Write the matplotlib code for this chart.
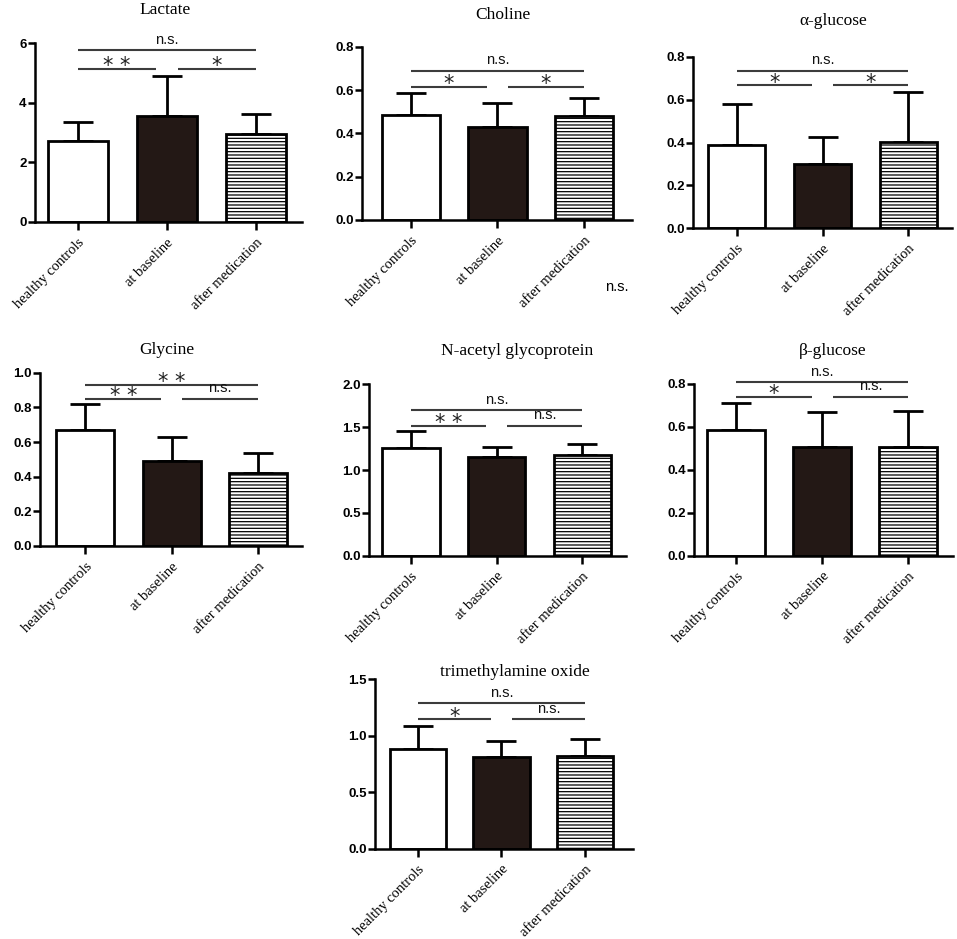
import matplotlib
matplotlib.use('Agg')
import matplotlib.pyplot as plt
import numpy as np

plt.rcParams['hatch.linewidth'] = 0.9

# ---------------- data ----------------
groups = ['healthy controls', 'at baseline', 'after medication']

titles = ['Lactate', 'Choline', 'α-glucose', 'Glycine',
          'N-acetyl glycoprotein', 'β-glucose', 'trimethylamine oxide']

lactate_mean = [2.70, 3.56, 2.96]
lactate_sd = [0.65, 1.34, 0.67]
choline_mean = [0.485, 0.429, 0.481]
choline_sd = [0.102, 0.113, 0.084]
aglucose_mean = [0.387, 0.298, 0.402]
aglucose_sd = [0.194, 0.126, 0.235]
glycine_mean = [0.667, 0.492, 0.423]
glycine_sd = [0.152, 0.137, 0.115]
nag_mean = [1.257, 1.148, 1.171]
nag_sd = [0.194, 0.124, 0.129]
bglucose_mean = [0.586, 0.508, 0.505]
bglucose_sd = [0.127, 0.162, 0.169]
tmao_mean = [0.886, 0.809, 0.824]
tmao_sd = [0.204, 0.142, 0.145]

lactate_ticks = [0, 2, 4, 6]
choline_ticks = [0.0, 0.2, 0.4, 0.6, 0.8]
aglucose_ticks = [0.0, 0.2, 0.4, 0.6, 0.8]
glycine_ticks = [0.0, 0.2, 0.4, 0.6, 0.8, 1.0]
nag_ticks = [0.0, 0.5, 1.0, 1.5, 2.0]
bglucose_ticks = [0.0, 0.2, 0.4, 0.6, 0.8]
tmao_ticks = [0.0, 0.5, 1.0, 1.5]

tick_fmt = ['{:.0f}', '{:.1f}', '{:.1f}', '{:.1f}', '{:.1f}', '{:.1f}', '{:.1f}']

# significance: [top (0 vs 2), lower-left (0 vs 1), lower-right (1 vs 2)]
lactate_sig = ['n.s.', '* *', '*']
choline_sig = ['n.s.', '*', '*']
aglucose_sig = ['n.s.', '*', '*']
glycine_sig = ['* *', '* *', 'n.s.']
nag_sig = ['n.s.', '* *', 'n.s.']
bglucose_sig = ['n.s.', '*', 'n.s.']
tmao_sig = ['n.s.', '*', 'n.s.']

# bracket heights [top line, lower lines]
lactate_brk = [5.75, 5.14]
choline_brk = [0.688, 0.615]
aglucose_brk = [0.735, 0.666]
glycine_brk = [0.931, 0.850]
nag_brk = [1.696, 1.517]
bglucose_brk = [0.808, 0.741]
tmao_brk = [1.287, 1.146]

means = [lactate_mean, choline_mean, aglucose_mean, glycine_mean, nag_mean, bglucose_mean, tmao_mean]
sds = [lactate_sd, choline_sd, aglucose_sd, glycine_sd, nag_sd, bglucose_sd, tmao_sd]
ticks = [lactate_ticks, choline_ticks, aglucose_ticks, glycine_ticks, nag_ticks, bglucose_ticks, tmao_ticks]
sigs = [lactate_sig, choline_sig, aglucose_sig, glycine_sig, nag_sig, bglucose_sig, tmao_sig]
brks = [lactate_brk, choline_brk, aglucose_brk, glycine_brk, nag_brk, bglucose_brk, tmao_brk]

# ---------------- layout (pixels) ----------------
W, H = 957, 939
# left, right, top, bottom of each axes in pixels
rects = [(35, 302, 43, 222), (362, 632, 46.7, 220), (693, 952, 56.7, 228.3),
         (40, 302, 372.7, 546), (369, 626, 384.3, 555.7), (694, 953, 384, 555.7),
         (375, 633, 679.3, 848.7)]
xlims = [(-0.483, 2.517), (-0.56, 2.55), (-0.51, 2.51), (-0.525, 2.51),
         (-0.49, 2.51), (-0.49, 2.52), (-0.51, 2.57)]
title_pos = [(165, 10), (503, 15), (833, 21), (167, 350), (517, 351), (833, 351), (515, 672)]

fig = plt.figure(figsize=(W / 100, H / 100), dpi=100)

fill = ['white', '#231815', 'white']
hatch = [None, None, '-----']
ink = 'black'
brk_col = '#3c3c3c'

for i in range(7):
    l, r, t, b = rects[i]
    ax = fig.add_axes([l / W, 1 - b / H, (r - l) / W, (b - t) / H])
    x = np.arange(3)
    bars = ax.bar(x, means[i], width=0.67, color=fill, edgecolor=ink, linewidth=2.0, zorder=2)
    for bar, h in zip(bars, hatch):
        if h:
            bar.set_hatch(h)
    ax.errorbar(x, means[i], yerr=[np.zeros(3), sds[i]], fmt='none', ecolor=ink,
                elinewidth=2.0, capsize=11, capthick=2.0, zorder=1)
    ax.set_xlim(*xlims[i])
    ax.set_ylim(ticks[i][0], ticks[i][-1])
    ax.set_yticks(ticks[i])
    ax.set_yticklabels([tick_fmt[i].format(v) for v in ticks[i]],
                       fontfamily='Liberation Sans', fontweight='bold', fontsize=9.5)
    ax.set_xticks(x)
    ax.set_xticklabels(groups, rotation=45, ha='right', rotation_mode='anchor',
                       fontfamily='Liberation Serif', fontsize=10.5)
    ax.tick_params(axis='y', length=5, width=1.8, pad=1)
    ax.tick_params(axis='x', length=6, width=1.8, pad=4)
    for s in ['top', 'right']:
        ax.spines[s].set_visible(False)
    for s in ['left', 'bottom']:
        ax.spines[s].set_linewidth(1.8)

    # brackets
    ytop, ylow = brks[i]
    gap = 0.12
    segs = [(0, 2, ytop, sigs[i][0]), (0, 1 - gap, ylow, sigs[i][1]), (1 + gap, 2, ylow, sigs[i][2])]
    for x1, x2, yy, lab in segs:
        ax.plot([x1, x2], [yy, yy], color=brk_col, lw=1.5, clip_on=False, solid_capstyle='butt')
        xc = (x1 + x2) / 2
        if '*' in lab:
            ax.annotate(lab, (xc, yy), xytext=(0, -2.5), textcoords='offset points',
                        ha='center', va='baseline', fontsize=15, fontfamily='DejaVu Sans',
                        color='#222222', annotation_clip=False)
        else:
            ax.annotate(lab, (xc, yy), xytext=(0, 2.5), textcoords='offset points',
                        ha='center', va='bottom', fontsize=10.5, fontfamily='Liberation Sans',
                        color='#111111', annotation_clip=False)

    tx, ty = title_pos[i]
    fig.text(tx / W, 1 - ty / H, titles[i], ha='center', va='center',
             fontfamily='Liberation Serif', fontsize=12.5)

# stray label below the Choline panel
fig.text(617 / W, 1 - 287 / H, 'n.s.', ha='center', va='center',
         fontfamily='Liberation Sans', fontsize=10.5)

fig.savefig('out.png', dpi=100)
